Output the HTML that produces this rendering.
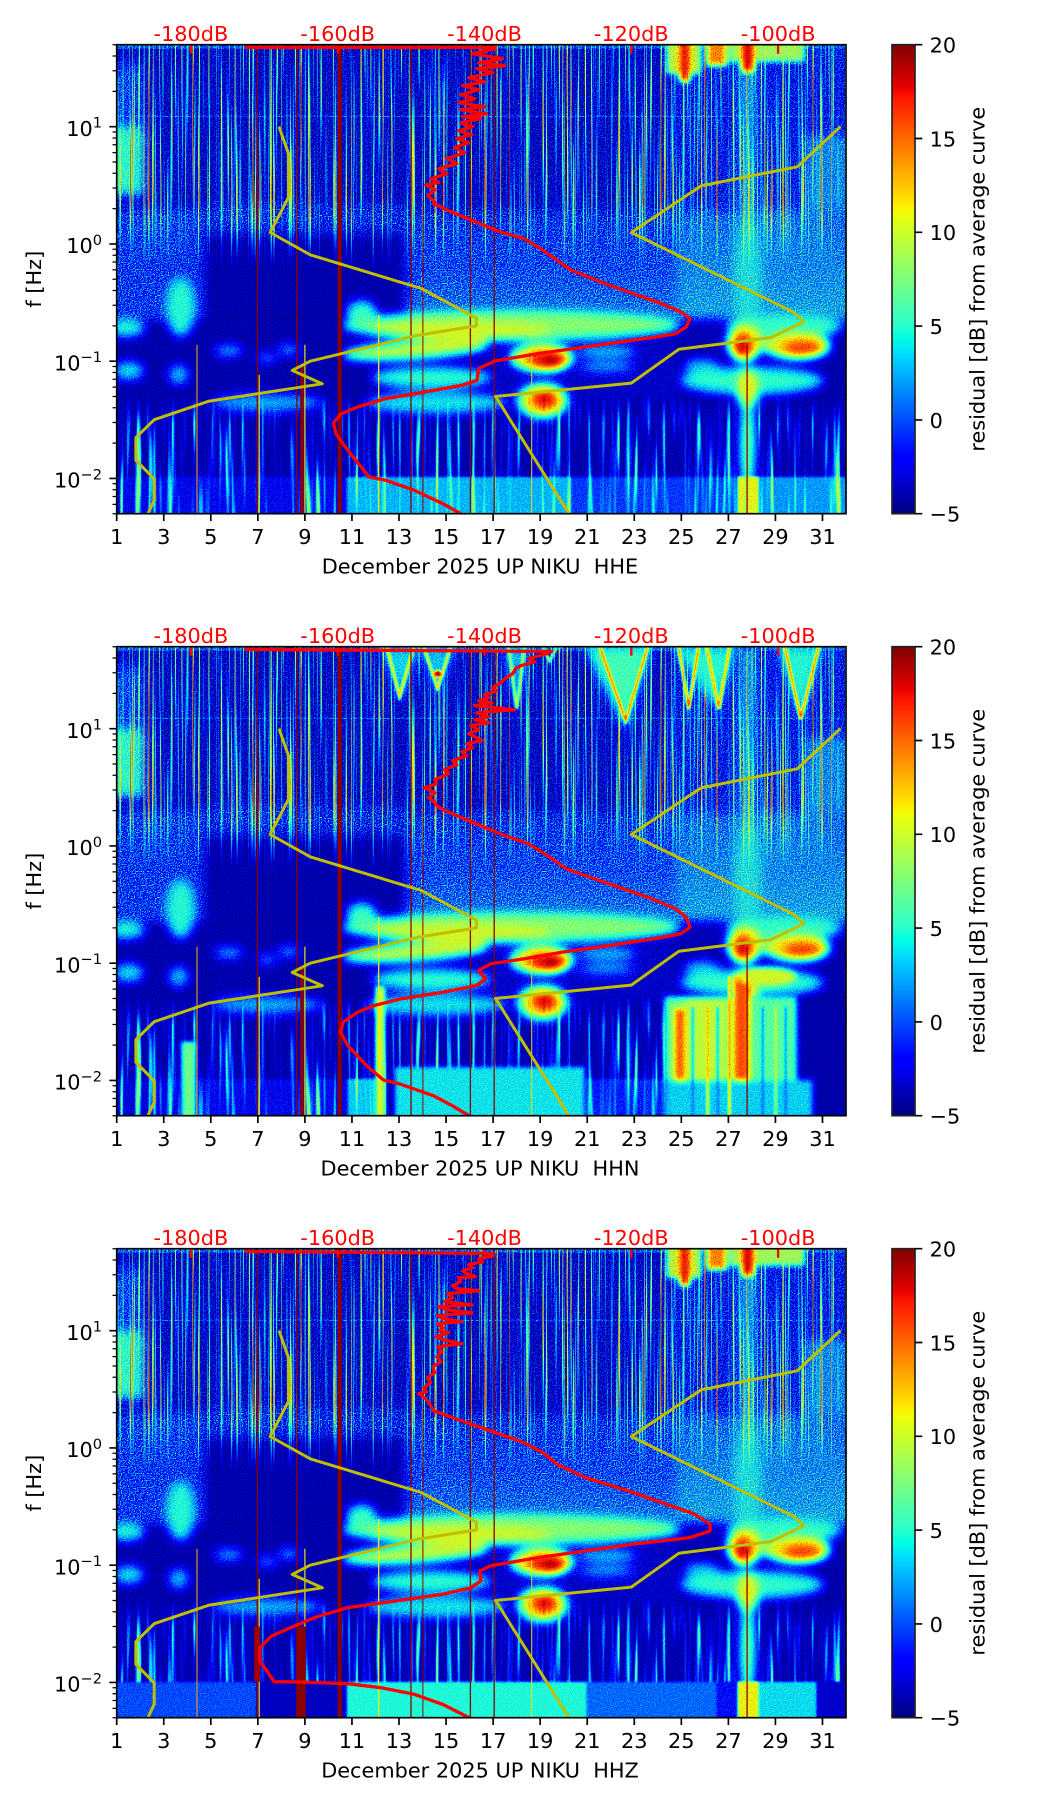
<!DOCTYPE html>
<html><head><meta charset="utf-8"><style>
html,body{margin:0;padding:0;background:#fff;width:1052px;height:1806px;overflow:hidden}
svg{display:block}
text{font-family:"DejaVu Sans","Liberation Sans",sans-serif}
</style></head><body>
<svg width="1052" height="1806" viewBox="0 0 1052 1806" xmlns="http://www.w3.org/2000/svg">
<defs>
<clipPath id="clip"><rect x="0" y="0" width="729.3" height="469"/></clipPath>
<filter id="jet" filterUnits="userSpaceOnUse" x="0" y="0" width="730" height="469" color-interpolation-filters="sRGB">
<feColorMatrix in="SourceGraphic" type="matrix" values="1 0 0 0 0  1 0 0 0 0  1 0 0 0 0  0 0 0 0 1" result="R"/>
<feColorMatrix in="SourceGraphic" type="matrix" values="0 1 0 0 0  0 1 0 0 0  0 1 0 0 0  0 0 0 0 1" result="G"/>
<feTurbulence type="fractalNoise" baseFrequency="0.85" numOctaves="1" seed="2" result="t"/>
<feColorMatrix in="t" type="matrix" values="3 0 0 0 -1  3 0 0 0 -1  3 0 0 0 -1  0 0 0 0 1" result="N0"/>
<feComponentTransfer in="N0" result="N">
<feFuncR type="gamma" amplitude="1" exponent="3" offset="0"/>
<feFuncG type="gamma" amplitude="1" exponent="3" offset="0"/>
<feFuncB type="gamma" amplitude="1" exponent="3" offset="0"/>
</feComponentTransfer>
<feComposite in="G" in2="N" operator="arithmetic" k1="1" k2="0" k3="0" k4="0" result="B"/>
<feComposite in="R" in2="B" operator="arithmetic" k1="0" k2="1" k3="0.3" k4="0" result="F"/>
<feComponentTransfer in="F">
<feFuncR type="table" tableValues="0 0 0 0 0 0 .081 .282 .484 .686 .887 1 1 1 1 .784 .5 .5 .5 .5 .5"/>
<feFuncG type="table" tableValues="0 0 0 .25 .5 .75 1 1 1 1 1 .824 .593 .361 .13 0 0 0 0 0 0"/>
<feFuncB type="table" tableValues=".5 .784 1 1 1 1 .887 .685 .484 .282 .081 0 0 0 0 0 0 0 0 0 0"/>
</feComponentTransfer>
</filter>
<filter id="b8" x="-20%" y="-20%" width="140%" height="140%" color-interpolation-filters="sRGB"><feGaussianBlur stdDeviation="9"/></filter>
<filter id="b5" x="-10%" y="-10%" width="120%" height="120%" color-interpolation-filters="sRGB"><feGaussianBlur stdDeviation="5"/></filter>
<filter id="b3" x="-10%" y="-10%" width="120%" height="120%" color-interpolation-filters="sRGB"><feGaussianBlur stdDeviation="3"/></filter>
<filter id="b2" x="-10%" y="-10%" width="120%" height="120%" color-interpolation-filters="sRGB"><feGaussianBlur stdDeviation="2"/></filter>
<filter id="b1" x="-10%" y="-10%" width="120%" height="120%" color-interpolation-filters="sRGB"><feGaussianBlur stdDeviation="1"/></filter>
<filter id="stkU" filterUnits="userSpaceOnUse" x="0" y="0" width="730" height="469" color-interpolation-filters="sRGB">
<feTurbulence type="fractalNoise" baseFrequency="0.5 0.004" numOctaves="2" seed="7" result="n1"/>
<feColorMatrix in="n1" type="matrix" values="2 0 0 0 -0.85  0 0 0 0 0.2  0 0 0 0 0  4 0 0 0 -2.1" result="s1"/>
<feTurbulence type="fractalNoise" baseFrequency="0.7 0.003" numOctaves="1" seed="13" result="n2"/>
<feColorMatrix in="n2" type="matrix" values="1.5 0 0 0 -0.35  0 0 0 0 0.2  0 0 0 0 0  6 0 0 0 -3.9" result="s2"/>
<feMerge><feMergeNode in="s1"/><feMergeNode in="s2"/></feMerge>
</filter>
<filter id="stkL" filterUnits="userSpaceOnUse" x="0" y="0" width="730" height="469" color-interpolation-filters="sRGB">
<feTurbulence type="fractalNoise" baseFrequency="0.2 0.008" numOctaves="2" seed="4"/>
<feColorMatrix type="matrix" values="1.2 0 0 0 -0.4  0 0 0 0 0.2  0 0 0 0 0  3 0 0 0 -1.3"/>
</filter>
<linearGradient id="gmU" x1="0" y1="0" x2="0" y2="1"><stop offset="0" stop-color="#fff"/><stop offset="0.68" stop-color="#fff"/><stop offset="1" stop-color="#000"/></linearGradient>
<mask id="mU" maskUnits="userSpaceOnUse" x="0" y="0" width="730" height="469"><rect x="0" y="0" width="730" height="225" fill="url(#gmU)"/></mask>
<linearGradient id="gmL" x1="0" y1="0" x2="0" y2="1"><stop offset="0" stop-color="#000"/><stop offset="0.25" stop-color="#aaa"/><stop offset="1" stop-color="#aaa"/></linearGradient>
<mask id="mL" maskUnits="userSpaceOnUse" x="0" y="0" width="730" height="469"><rect x="0" y="350" width="730" height="119" fill="url(#gmL)"/></mask>
<linearGradient id="gMid" x1="0" y1="0" x2="0" y2="1"><stop offset="0" stop-color="rgb(12,220,0)"/><stop offset="1" stop-color="rgb(36,220,0)"/></linearGradient>
<linearGradient id="gMidR" x1="0" y1="0" x2="0" y2="1"><stop offset="0" stop-color="rgb(30,220,0)"/><stop offset="1" stop-color="rgb(48,200,0)"/></linearGradient>
<linearGradient id="cbg" x1="0" y1="1" x2="0" y2="0">
<stop offset="0" stop-color="#000080"/><stop offset="0.11" stop-color="#0000ff"/><stop offset="0.125" stop-color="#0000ff"/>
<stop offset="0.2" stop-color="#004cff"/><stop offset="0.25" stop-color="#0080ff"/><stop offset="0.3" stop-color="#00b3ff"/>
<stop offset="0.34" stop-color="#00dbff"/><stop offset="0.375" stop-color="#00ffe2"/><stop offset="0.4" stop-color="#29ffce"/>
<stop offset="0.45" stop-color="#52ffa5"/><stop offset="0.5" stop-color="#7bff7b"/><stop offset="0.55" stop-color="#a4ff52"/>
<stop offset="0.6" stop-color="#cdff29"/><stop offset="0.64" stop-color="#eeff08"/><stop offset="0.66" stop-color="#ffec00"/>
<stop offset="0.7" stop-color="#ffc600"/><stop offset="0.75" stop-color="#ff9700"/><stop offset="0.8" stop-color="#ff6800"/>
<stop offset="0.85" stop-color="#ff3800"/><stop offset="0.89" stop-color="#ff1300"/><stop offset="0.91" stop-color="#e80000"/>
<stop offset="0.95" stop-color="#b90000"/><stop offset="1" stop-color="#800000"/>
</linearGradient>

<g id="fA">
<g filter="url(#b5)">
<rect x="-10" y="-10" width="750" height="182" fill="rgb(4,140,0)"/>
<rect x="555" y="-10" width="185" height="185" fill="rgb(12,170,0)"/>
<rect x="-10" y="82" width="37" height="68" fill="rgb(70,160,0)"/>
<rect x="-10" y="20" width="37" height="62" fill="rgb(24,170,0)"/>
<rect x="688" y="90" width="50" height="90" fill="rgb(40,170,0)"/>
<rect x="-10" y="165" width="98" height="110" fill="rgb(20,220,0)"/>
<rect x="88" y="160" width="200" height="30" fill="rgb(12,220,0)"/>
<rect x="288" y="165" width="272" height="110" fill="url(#gMid)"/>
<rect x="560" y="165" width="180" height="110" fill="url(#gMidR)"/>
<g filter="url(#b8)"><rect x="92" y="195" width="192" height="84" fill="rgb(4,60,0)"/></g>
<rect x="623" y="-10" width="16" height="305" fill="rgb(48,200,0)"/>
<ellipse cx="631" cy="230" rx="14" ry="60" fill="rgb(62,170,0)"/>
<ellipse cx="10" cy="283" rx="18" ry="9" fill="rgb(73,90,0)"/>
<ellipse cx="64" cy="262" rx="15" ry="30" fill="rgb(72,100,0)"/>
<rect x="88" y="276" width="142" height="93" fill="rgb(4,60,0)"/>
<rect x="-10" y="292" width="100" height="25" fill="rgb(4,60,0)"/>
<ellipse cx="395" cy="281" rx="170" ry="15" fill="rgb(96,100,0)"/>
<ellipse cx="345" cy="286" rx="90" ry="9" fill="rgb(118,90,0)"/>
<ellipse cx="245" cy="268" rx="15" ry="12" fill="rgb(78,100,0)"/>
<rect x="563" y="274" width="45" height="28" fill="rgb(6,60,0)"/>
<ellipse cx="668" cy="282" rx="58" ry="12" fill="rgb(76,100,0)"/>
<ellipse cx="112" cy="306" rx="14" ry="5" fill="rgb(60,90,0)"/>
<ellipse cx="150" cy="313" rx="10" ry="4" fill="rgb(56,90,0)"/>
<ellipse cx="172" cy="305" rx="10" ry="5" fill="rgb(56,90,0)"/>
<ellipse cx="300" cy="305" rx="75" ry="9" fill="rgb(114,90,0)" transform="rotate(-4 300 305)"/>
<rect x="370" y="296" width="190" height="60" fill="rgb(8,80,0)"/>
<ellipse cx="425" cy="313" rx="32" ry="14" fill="rgb(126,90,0)"/>
<ellipse cx="430" cy="315" rx="20" ry="9" fill="rgb(180,60,0)"/>
<ellipse cx="436" cy="318" rx="10" ry="6" fill="rgb(204,40,0)"/>
<ellipse cx="490" cy="307" rx="30" ry="6" fill="rgb(62,90,0)"/>
<ellipse cx="628" cy="298" rx="18" ry="18" fill="rgb(126,90,0)"/>
<ellipse cx="626" cy="302" rx="9" ry="13" fill="rgb(188,50,0)"/>
<ellipse cx="680" cy="301" rx="34" ry="13" fill="rgb(126,90,0)"/>
<ellipse cx="686" cy="304" rx="20" ry="8" fill="rgb(173,60,0)"/>
<ellipse cx="585" cy="322" rx="18" ry="8" fill="rgb(58,90,0)"/>
<ellipse cx="12" cy="326" rx="15" ry="9" fill="rgb(66,90,0)"/>
<ellipse cx="62" cy="330" rx="10" ry="10" fill="rgb(58,90,0)"/>
<ellipse cx="315" cy="333" rx="60" ry="11" fill="rgb(75,90,0)"/>
<ellipse cx="490" cy="322" rx="28" ry="5" fill="rgb(58,90,0)"/>
<ellipse cx="635" cy="336" rx="72" ry="14" fill="rgb(75,90,0)"/>
<ellipse cx="631" cy="345" rx="10" ry="22" fill="rgb(126,90,0)"/>
<ellipse cx="150" cy="358" rx="55" ry="9" fill="rgb(52,90,0)"/>
<ellipse cx="320" cy="358" rx="70" ry="11" fill="rgb(66,90,0)"/>
<ellipse cx="426" cy="356" rx="26" ry="18" fill="rgb(112,90,0)"/>
<ellipse cx="427" cy="356" rx="15" ry="11" fill="rgb(173,60,0)"/>
<ellipse cx="428" cy="354" rx="7" ry="5" fill="rgb(200,40,0)"/>
<ellipse cx="631" cy="400" rx="7" ry="45" fill="rgb(102,90,0)"/>
</g>
<rect x="0" y="0" width="730" height="4" fill="rgb(30,150,0)"/>
<rect x="0" y="71" width="730" height="1.2" fill="rgb(50,200,0)" opacity="0.5"/>
</g>

<g id="hotTop" filter="url(#b3)">
<rect x="550" y="-5" width="34" height="34" fill="rgb(110,150,0)"/>
<rect x="563" y="-5" width="10" height="42" fill="rgb(180,80,0)"/>
<rect x="590" y="-5" width="20" height="26" fill="rgb(150,100,0)"/>
<rect x="612" y="-5" width="76" height="22" fill="rgb(100,150,0)"/>
<rect x="625" y="-5" width="12" height="32" fill="rgb(185,60,0)"/>
</g>

<g id="stk">
<rect x="0" y="0" width="730" height="469" fill="#000" filter="url(#stkU)" mask="url(#mU)"/>
<rect x="0" y="0" width="730" height="469" fill="#000" filter="url(#stkL)" mask="url(#mL)"/>
</g>

<g id="dl">
<g stroke="#8b0000" fill="none">
<line x1="140.7" y1="0" x2="140.7" y2="469" stroke-width="1.3"/>
<line x1="180.2" y1="0" x2="180.2" y2="469" stroke-width="1.3"/>
<line x1="223" y1="0" x2="223" y2="469" stroke-width="4"/>
<line x1="294.3" y1="0" x2="294.3" y2="469" stroke-width="1.3"/>
<line x1="306.2" y1="160" x2="306.2" y2="469" stroke-width="1"/>
<line x1="353.7" y1="0" x2="353.7" y2="469" stroke-width="1.3"/>
<line x1="377.5" y1="0" x2="377.5" y2="469" stroke-width="1.3"/>
<line x1="630.4" y1="300" x2="630.4" y2="469" stroke-width="1.3"/>
</g>
<line x1="80.3" y1="300" x2="80.3" y2="469" stroke="#ffb000" stroke-width="1"/>
<line x1="142.5" y1="330" x2="142.5" y2="469" stroke="#e8e800" stroke-width="1.2"/>
<line x1="188.2" y1="300" x2="188.2" y2="469" stroke="#e8e800" stroke-width="1.2"/>
<line x1="262" y1="270" x2="262" y2="469" stroke="#f0f000" stroke-width="1.3"/>
<line x1="415" y1="300" x2="415" y2="469" stroke="#f0e000" stroke-width="1"/>
</g>

<g id="nm" fill="none" stroke="#bfbf00" stroke-width="3" stroke-linejoin="round">
<polyline points="162.3,81.95 171.8,109.0 171.8,152.55 153.5,187.8 193.8,210.2 304.7,243.8 359.7,273.5 359.7,281.2 301.7,290.4 193.5,316.5 175.5,325.7 205.6,339.1 92.55,356.4 37.5,375.0 19.15,393.0 19.15,415.5 37.5,434.2 37.5,455.7 19.15,494.2"/>
<polyline points="723.8,81.95 680.5,122.1 584.3,141.2 514.6,187.8 676.1,267.2 687.1,276.9 654.1,292.9 562.3,304.5 514.6,338.4 378.8,351.75 452.3,469"/>
</g>

<g id="ax">
<path d="M74.2,0v9M221,0v9M367.8,0v9M514.6,0v9M661.4,0v9" stroke="#f00" stroke-width="2.3" fill="none"/>
<rect x="0" y="0" width="729.3" height="469" fill="none" stroke="#000" stroke-width="1.67"/>
<path d="M0,81.95h-7.3M0,199.2h-7.3M0,316.45h-7.3M0,433.7h-7.3" stroke="#000" stroke-width="1.67"/>
<path d="M0,0h-4.2M0,46.65h-4.2M0,26.05h-4.2M0,11.35h-4.2M0,163.9h-4.2M0,143.3h-4.2M0,128.6h-4.2M0,117.25h-4.2M0,107.97h-4.2M0,100.1h-4.2M0,93.3h-4.2M0,87.3h-4.2M0,281.15h-4.2M0,260.55h-4.2M0,245.85h-4.2M0,234.5h-4.2M0,225.2h-4.2M0,217.35h-4.2M0,210.55h-4.2M0,204.55h-4.2M0,398.4h-4.2M0,377.8h-4.2M0,363.1h-4.2M0,351.75h-4.2M0,342.45h-4.2M0,334.6h-4.2M0,327.8h-4.2M0,321.8h-4.2M0,469h-4.2M0,459.7h-4.2M0,451.85h-4.2M0,445.05h-4.2M0,439.05h-4.2" stroke="#000" stroke-width="1.25"/>
<path d="M0,469v7.3M47.05,469v7.3M94.1,469v7.3M141.16,469v7.3M188.21,469v7.3M235.26,469v7.3M282.31,469v7.3M329.36,469v7.3M376.42,469v7.3M423.47,469v7.3M470.52,469v7.3M517.57,469v7.3M564.62,469v7.3M611.68,469v7.3M658.73,469v7.3M705.78,469v7.3" stroke="#000" stroke-width="1.67"/>
</g>

<g id="cb">
<rect x="892" y="44.7" width="23" height="469" fill="url(#cbg)" stroke="#222" stroke-width="1.67"/>
<path d="M915,44.7h7.3M915,138.5h7.3M915,232.3h7.3M915,326.1h7.3M915,419.9h7.3M915,513.7h7.3" stroke="#000" stroke-width="1.67"/>
</g>
</defs>

<!-- ===== PANEL 1 ===== -->
<g transform="translate(116.7,44.7)">
<g clip-path="url(#clip)">
<g filter="url(#jet)">
<rect x="0" y="0" width="730" height="469" fill="rgb(4,60,0)"/>
<use href="#fA"/>
<g filter="url(#b1)">
<rect x="-5" y="432" width="235" height="45" fill="rgb(16,70,0)"/>
<rect x="230" y="432" width="225" height="45" fill="rgb(57,70,0)"/>
<rect x="455" y="432" width="166" height="45" fill="rgb(31,70,0)"/>
<rect x="621" y="432" width="21" height="45" fill="rgb(126,70,0)"/>
<rect x="642" y="432" width="95" height="45" fill="rgb(51,70,0)"/>
</g>
<use href="#stk"/>
<use href="#hotTop"/>
</g>
<use href="#dl"/>
<line x1="185.4" y1="320" x2="185.4" y2="469" stroke="#8b0000" stroke-width="3.5"/>
<use href="#nm"/>
<path fill="none" stroke="#f00" stroke-width="3.3" stroke-linejoin="round" d="M127.9,2.7H378L378,4 356,9 386,14 362,18 388,21 360,24 376,28 352,33 368,37 346,41 362,45 344,50 358,54 342,58 368,62 344,65 370,69 346,72 364,74 344,78 356,82 342,86 355,90 340,94 352,98 338,103 348,108 330,114 340,119 322,124 330,129 314,134 322,138 309,140 318,145 311,151 318,157 316.6,158.8 330.9,165.5 354.7,175.5 383.3,187.1 407.0,193.8 423.6,203.8 437.9,213.8 454.5,225.5 487.8,238.8 516.3,248.8 544.8,258.9 563.8,267.2 573.3,273.9 569.5,282.2 559.1,288.9 540.1,292.2 487.8,299.5 421.2,308.9 378.4,316.2 361.8,323.9 360.4,335.6 345.2,340.6 302.4,348.3 269.1,353.9 240.6,362.3 223.9,369.6 216.8,378.3 219.2,388.9 231.1,405.6 252.4,432.3 269.1,435.6 297.6,445.6 326.1,459.0 342.8,468.3 348,472"/>
</g>
<use href="#ax"/>
</g>
<use href="#cb"/>

<!-- ===== PANEL 2 ===== -->
<g transform="translate(116.7,646.7)">
<g clip-path="url(#clip)">
<g filter="url(#jet)">
<rect x="0" y="0" width="730" height="469" fill="rgb(4,60,0)"/>
<use href="#fA"/>
<g filter="url(#b1)">
<rect x="-5" y="432" width="70" height="45" fill="rgb(12,70,0)"/>
<rect x="79" y="432" width="152" height="45" fill="rgb(16,70,0)"/>
<rect x="231" y="432" width="28" height="45" fill="rgb(61,70,0)"/>
<rect x="468" y="432" width="80" height="45" fill="rgb(25,70,0)"/>
</g>
<use href="#stk"/>
<g filter="url(#b2)">
<rect x="65" y="395" width="14" height="80" fill="rgb(92,80,0)"/>
<rect x="259" y="340" width="9" height="135" fill="rgb(120,70,0)"/>
<rect x="278" y="420" width="190" height="55" fill="rgb(67,70,0)"/>
</g>
<g filter="url(#b3)">
<rect x="680" y="352" width="55" height="120" fill="rgb(4,50,0)"/>
<rect x="548" y="350" width="132" height="84" fill="rgb(92,90,0)"/>
<rect x="548" y="433" width="148" height="40" fill="rgb(62,80,0)"/>
<rect x="558" y="362" width="10" height="72" fill="rgb(163,60,0)"/>
<rect x="568" y="352" width="42" height="82" fill="rgb(112,90,0)"/>
<rect x="617" y="328" width="16" height="106" fill="rgb(165,60,0)"/>
<rect x="633" y="350" width="47" height="84" fill="rgb(86,90,0)"/>
<ellipse cx="650" cy="330" rx="30" ry="9" fill="rgb(118,90,0)"/>
</g>
<g filter="url(#b1)">
<rect x="575" y="360" width="2" height="110" fill="rgb(40,60,0)"/>
<rect x="590" y="360" width="2" height="110" fill="rgb(150,60,0)"/>
<rect x="600" y="360" width="2" height="110" fill="rgb(40,60,0)"/>
<rect x="612" y="330" width="1.5" height="140" fill="rgb(190,40,0)"/>
<rect x="645" y="360" width="2" height="110" fill="rgb(40,60,0)"/>
<rect x="658" y="360" width="2" height="110" fill="rgb(120,60,0)"/>
<rect x="668" y="360" width="2" height="110" fill="rgb(40,60,0)"/>
</g>
<g filter="url(#b5)">
<polygon points="264,0 303,0 284,55" fill="rgb(62,100,0)"/>
<polygon points="302,0 340,0 321,45" fill="rgb(58,100,0)"/>
<polygon points="388,0 411,0 400,64" fill="rgb(58,100,0)"/>
<polygon points="468,0 536,0 509,84" fill="rgb(80,100,0)"/>
<polygon points="556,0 620,0 600,64" fill="rgb(72,100,0)"/>
<polygon points="660,0 706,0 684,74" fill="rgb(72,100,0)"/>
</g>
<g filter="url(#b1)" fill="none" stroke-width="2.5">
<polyline points="270,0 283,50 297,0" stroke="rgb(150,70,0)"/>
<polyline points="307,0 321,42 334,0" stroke="rgb(140,70,0)"/>
<circle cx="321" cy="27" r="3.5" fill="rgb(190,40,0)" stroke="none"/>
<polyline points="392,0 400,62 408,0" stroke="rgb(120,80,0)"/>
<polyline points="426,0 433,15 440,0" stroke="rgb(110,80,0)"/>
<polyline points="483,0 509,74 531,0" stroke="rgb(172,50,0)"/>
<polyline points="562,0 572,62 582,0" stroke="rgb(172,50,0)"/>
<polyline points="590,0 602,62 613,0" stroke="rgb(162,50,0)"/>
<polyline points="668,0 684,72 702,0" stroke="rgb(172,50,0)"/>
</g>
</g>
<use href="#dl"/>
<line x1="185.4" y1="320" x2="185.4" y2="469" stroke="#8b0000" stroke-width="3.5"/>
<use href="#nm"/>
<path fill="none" stroke="#f00" stroke-width="3.3" stroke-linejoin="round" d="M127.9,2.7L435,4.7L430,7 412,12 418,15 404,19 399,22 396,27 388,32 384,36 376,41 380,44 368,48 372,51 362,54 375,56 358,59 398,63 360,66 372,70 358,73 372,76 354,79 362,83 352,87 360,91 365,94 350,97 356,101 345,105 350,109 336,114 340,118 328,123 332,127 318,133 320,137 308,141 318,146 312,151 318,156 321.4,160.4 335.6,167.1 359.4,177.1 387.9,188.8 411.7,197.1 430.7,208.8 449.7,222.2 468.8,228.8 502.0,240.5 535.3,252.2 559.1,262.2 569.5,270.5 573.3,280.5 563.8,287.2 540.1,291.5 492.5,298.9 445.0,305.6 407.0,312.2 373.7,317.2 361.8,323.9 368.9,332.2 359.4,338.9 326.1,345.6 283.3,352.3 257.2,358.9 240.6,365.6 226.3,375.6 223.9,385.6 231.1,398.9 250.1,419.0 266.7,433.3 283.3,437.3 316.6,449.0 335.6,459.0 352.3,469.0 356,473"/>
</g>
<use href="#ax"/>
</g>
<use href="#cb" transform="translate(0,602)"/>

<!-- ===== PANEL 3 ===== -->
<g transform="translate(116.7,1248.7)">
<g clip-path="url(#clip)">
<g filter="url(#jet)">
<rect x="0" y="0" width="730" height="469" fill="rgb(4,60,0)"/>
<use href="#fA"/>
<use href="#stk"/>
<g filter="url(#b1)">
<rect x="-5" y="433" width="145" height="45" fill="rgb(35,70,0)"/>
<rect x="140" y="433" width="90" height="45" fill="rgb(8,50,0)"/>
<rect x="230" y="433" width="240" height="45" fill="rgb(73,70,0)"/>
<rect x="470" y="433" width="130" height="45" fill="rgb(41,70,0)"/>
<rect x="600" y="433" width="21" height="45" fill="rgb(20,70,0)"/>
<rect x="621" y="433" width="21" height="45" fill="rgb(126,70,0)"/>
<rect x="642" y="433" width="58" height="45" fill="rgb(65,70,0)"/>
<rect x="700" y="433" width="37" height="45" fill="rgb(10,50,0)"/>
</g>
<use href="#hotTop"/>
</g>
<use href="#dl"/>
<rect x="180" y="378" width="9" height="91" fill="#8b0000"/>
<rect x="137.5" y="378" width="6" height="55" fill="#a00000"/>
<use href="#nm"/>
<path fill="none" stroke="#f00" stroke-width="3.3" stroke-linejoin="round" d="M127.9,2.7L376,4.7L376,7 362,10 366,13 352,16 356,19 346,22 350,25 359,28 342,29 344,33 336,37 340,40 362,42 331,45 336,49 328,53 355,56 322,58 330,61 355,64 321,67 328,70 345,73 321,75 326,79 323,82 332,84 319,88 326,91 345,95 321,98 325,103 320,108 324,113 316,118 318,124 311,129 314,134 307,139 310,143 302,145 309,150 313,155 316.6,162.1 335.6,168.8 359.4,177.1 383.2,185.5 407.0,193.8 426.0,203.8 440.2,215.5 468.8,228.8 511.6,242.2 549.6,255.5 578.1,265.5 593.3,275.5 593.3,282.2 573.3,288.9 516.3,295.5 468.8,302.2 421.2,308.9 373.7,317.2 363.2,322.2 364.2,332.2 354.7,338.9 326.1,345.6 278.6,352.3 231.1,358.9 197.8,368.9 174.0,378.9 155.0,387.3 143.1,398.9 143.1,412.3 150.2,422.3 157.4,433.0 183.5,433.3 231.1,435.0 264.3,439.0 297.6,445.6 326.1,455.7 352.3,469.0 356,473"/>
</g>
<use href="#ax"/>
</g>
<use href="#cb" transform="translate(0,1204)"/>

<!-- ===== TEXT ===== -->
<g font-size="20.83" fill="#f00" text-anchor="middle">
<text x="190.9" y="40.8">-180dB</text><text x="337.7" y="40.8">-160dB</text><text x="484.5" y="40.8">-140dB</text><text x="631.3" y="40.8">-120dB</text><text x="778.1" y="40.8">-100dB</text>
<text x="190.9" y="642.8">-180dB</text><text x="337.7" y="642.8">-160dB</text><text x="484.5" y="642.8">-140dB</text><text x="631.3" y="642.8">-120dB</text><text x="778.1" y="642.8">-100dB</text>
<text x="190.9" y="1244.8">-180dB</text><text x="337.7" y="1244.8">-160dB</text><text x="484.5" y="1244.8">-140dB</text><text x="631.3" y="1244.8">-120dB</text><text x="778.1" y="1244.8">-100dB</text>
</g>

<g font-size="20.83" fill="#000" text-anchor="end">
<text x="102" y="135.95">10<tspan dy="-8.3" font-size="14.6">1</tspan></text>
<text x="102" y="253.2">10<tspan dy="-8.3" font-size="14.6">0</tspan></text>
<text x="102" y="370.45">10<tspan dy="-8.3" font-size="14.6">−1</tspan></text>
<text x="102" y="487.7">10<tspan dy="-8.3" font-size="14.6">−2</tspan></text>
<text x="102" y="737.95">10<tspan dy="-8.3" font-size="14.6">1</tspan></text>
<text x="102" y="855.2">10<tspan dy="-8.3" font-size="14.6">0</tspan></text>
<text x="102" y="972.45">10<tspan dy="-8.3" font-size="14.6">−1</tspan></text>
<text x="102" y="1089.7">10<tspan dy="-8.3" font-size="14.6">−2</tspan></text>
<text x="102" y="1339.95">10<tspan dy="-8.3" font-size="14.6">1</tspan></text>
<text x="102" y="1457.2">10<tspan dy="-8.3" font-size="14.6">0</tspan></text>
<text x="102" y="1574.45">10<tspan dy="-8.3" font-size="14.6">−1</tspan></text>
<text x="102" y="1691.7">10<tspan dy="-8.3" font-size="14.6">−2</tspan></text>
</g>

<g font-size="20.83" fill="#000" text-anchor="middle">
<text x="116.7" y="544">1</text><text x="163.75" y="544">3</text><text x="210.8" y="544">5</text><text x="257.86" y="544">7</text><text x="304.91" y="544">9</text><text x="351.96" y="544">11</text><text x="399.01" y="544">13</text><text x="446.06" y="544">15</text><text x="493.12" y="544">17</text><text x="540.17" y="544">19</text><text x="587.22" y="544">21</text><text x="634.27" y="544">23</text><text x="681.32" y="544">25</text><text x="728.38" y="544">27</text><text x="775.43" y="544">29</text><text x="822.48" y="544">31</text>
<text x="116.7" y="1146">1</text><text x="163.75" y="1146">3</text><text x="210.8" y="1146">5</text><text x="257.86" y="1146">7</text><text x="304.91" y="1146">9</text><text x="351.96" y="1146">11</text><text x="399.01" y="1146">13</text><text x="446.06" y="1146">15</text><text x="493.12" y="1146">17</text><text x="540.17" y="1146">19</text><text x="587.22" y="1146">21</text><text x="634.27" y="1146">23</text><text x="681.32" y="1146">25</text><text x="728.38" y="1146">27</text><text x="775.43" y="1146">29</text><text x="822.48" y="1146">31</text>
<text x="116.7" y="1748">1</text><text x="163.75" y="1748">3</text><text x="210.8" y="1748">5</text><text x="257.86" y="1748">7</text><text x="304.91" y="1748">9</text><text x="351.96" y="1748">11</text><text x="399.01" y="1748">13</text><text x="446.06" y="1748">15</text><text x="493.12" y="1748">17</text><text x="540.17" y="1748">19</text><text x="587.22" y="1748">21</text><text x="634.27" y="1748">23</text><text x="681.32" y="1748">25</text><text x="728.38" y="1748">27</text><text x="775.43" y="1748">29</text><text x="822.48" y="1748">31</text>
<text x="480" y="573.5" xml:space="preserve" style="white-space:pre">December 2025 UP NIKU  HHE</text>
<text x="480" y="1175.5" xml:space="preserve" style="white-space:pre">December 2025 UP NIKU  HHN</text>
<text x="480" y="1777.5" xml:space="preserve" style="white-space:pre">December 2025 UP NIKU  HHZ</text>
<text transform="translate(40.8,279.2) rotate(-90)">f [Hz]</text>
<text transform="translate(40.8,881.2) rotate(-90)">f [Hz]</text>
<text transform="translate(40.8,1483.2) rotate(-90)">f [Hz]</text>
<text transform="translate(984.4,279.2) rotate(-90)">residual [dB] from average curve</text>
<text transform="translate(984.4,881.2) rotate(-90)">residual [dB] from average curve</text>
<text transform="translate(984.4,1483.2) rotate(-90)">residual [dB] from average curve</text>
</g>

<g font-size="20.83" fill="#000">
<text x="929.6" y="52.6">20</text><text x="929.6" y="146.4">15</text><text x="929.6" y="240.2">10</text><text x="929.6" y="334">5</text><text x="929.6" y="427.8">0</text><text x="929.6" y="521.6">−5</text>
<text x="929.6" y="654.6">20</text><text x="929.6" y="748.4">15</text><text x="929.6" y="842.2">10</text><text x="929.6" y="936">5</text><text x="929.6" y="1029.8">0</text><text x="929.6" y="1123.6">−5</text>
<text x="929.6" y="1256.6">20</text><text x="929.6" y="1350.4">15</text><text x="929.6" y="1444.2">10</text><text x="929.6" y="1538">5</text><text x="929.6" y="1631.8">0</text><text x="929.6" y="1725.6">−5</text>
</g>
</svg>
</body></html>
